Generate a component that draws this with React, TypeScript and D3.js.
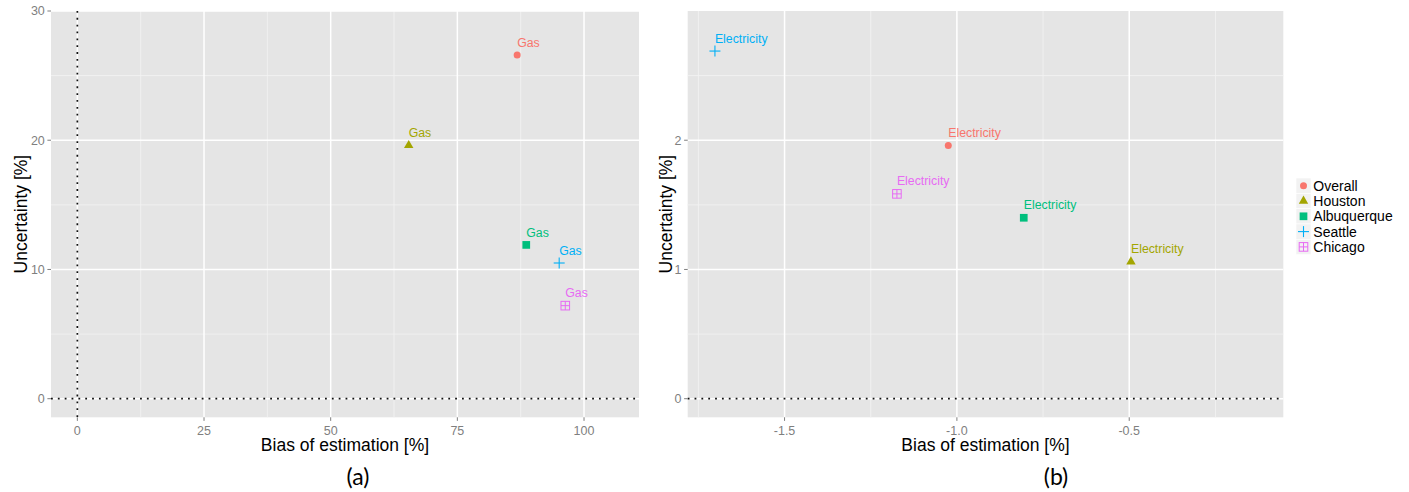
import React from "react";
import * as d3 from "d3";

const seriesNames = ["Overall", "Houston", "Albuquerque", "Seattle", "Chicago"];
const seriesColors = ["#F8766D", "#A3A500", "#00BF7D", "#00B0F6", "#E76BF3"];
const seriesShapes = ["circle", "triangle", "square", "plus", "squarePlus"];

const gasBias = [86.8, 65.4, 88.6, 95.1, 96.3];
const gasUncertainty = [26.6, 19.6, 11.9, 10.5, 7.2];
const elecBias = [-1.025, -0.495, -0.806, -1.702, -1.174];
const elecUncertainty = [1.96, 1.06, 1.4, 2.69, 1.585];

const aXTicks = [0, 25, 50, 75, 100];
const aYTicks = [0, 10, 20, 30];
const bXTicks = [-1.5, -1.0, -0.5];
const bYTicks = [0, 1, 2];

const FONT = "Liberation Sans, Arial, sans-serif";

function Marker({ shape, color, x, y }: { shape: string; color: string; x: number; y: number }) {
  if (shape === "circle") return <circle cx={x} cy={y} r={3.5} fill={color} />;
  if (shape === "triangle") {
    const s = 3.5;
    const r = 1.555 * s, xc = 1.347 * s, yc = 0.778 * s;
    return <path d={`M${x},${y - r}L${x + xc},${y + yc}L${x - xc},${y + yc}Z`} fill={color} />;
  }
  if (shape === "square") {
    const h = 3.85;
    return <rect x={x - h} y={y - h} width={2 * h} height={2 * h} fill={color} />;
  }
  if (shape === "plus") {
    const h = 5.5;
    return (
      <g stroke={color} strokeWidth={1.1}>
        <line x1={x - h} x2={x + h} y1={y} y2={y} />
        <line x1={x} x2={x} y1={y - h} y2={y + h} />
      </g>
    );
  }
  const h = 4.3;
  return (
    <g stroke={color} strokeWidth={1} fill="none">
      <rect x={x - h} y={y - h} width={2 * h} height={2 * h} />
      <line x1={x - h} x2={x + h} y1={y} y2={y} />
      <line x1={x} x2={x} y1={y - h} y2={y + h} />
    </g>
  );
}

function Panel(props: {
  left: number; right: number; top: number; bottom: number;
  xDomain: [number, number]; yDomain: [number, number];
  xTicks: number[]; yTicks: number[];
  xs: number[]; ys: number[]; label: string; fmtX: (v: number) => string;
  vline: boolean; yTitleX: number; tag: string; tagX: number;
}) {
  const { left, right, top, bottom, xDomain, yDomain, xTicks, yTicks, xs, ys, label, fmtX, vline, yTitleX, tag, tagX } = props;
  const x = d3.scaleLinear().domain(xDomain).range([left, right]);
  const y = d3.scaleLinear().domain(yDomain).range([bottom, top]);
  const xStep = xTicks[1] - xTicks[0];
  const yStep = yTicks[1] - yTicks[0];
  const xMinor: number[] = [];
  for (let v = xTicks[0] - xStep / 2; v <= xDomain[1]; v += xStep) if (v >= xDomain[0]) xMinor.push(v);
  const yMinor: number[] = [];
  for (let v = yTicks[0] - yStep / 2; v <= yDomain[1]; v += yStep) if (v >= yDomain[0]) yMinor.push(v);
  const cx = (left + right) / 2;
  const cy = (top + bottom) / 2;
  return (
    <g>
      <rect x={left} y={top} width={right - left} height={bottom - top} fill="#E5E5E5" />
      {xMinor.map((v, i) => (
        <line key={"xm" + i} x1={x(v)} x2={x(v)} y1={top} y2={bottom} stroke="#F2F2F2" strokeWidth={0.9} />
      ))}
      {yMinor.map((v, i) => (
        <line key={"ym" + i} x1={left} x2={right} y1={y(v)} y2={y(v)} stroke="#F2F2F2" strokeWidth={0.9} />
      ))}
      {xTicks.map((v, i) => (
        <line key={"xM" + i} x1={x(v)} x2={x(v)} y1={top} y2={bottom} stroke="#FFFFFF" strokeWidth={1.5} />
      ))}
      {yTicks.map((v, i) => (
        <line key={"yM" + i} x1={left} x2={right} y1={y(v)} y2={y(v)} stroke="#FFFFFF" strokeWidth={1.5} />
      ))}
      <line x1={left} x2={right} y1={y(0)} y2={y(0)} stroke="#111" strokeWidth={1.7} strokeDasharray="1.8,5.05" />
      {vline && (
        <line x1={x(0)} x2={x(0)} y1={top} y2={bottom} stroke="#111" strokeWidth={1.7} strokeDasharray="1.8,5.05" />
      )}
      {xs.map((v, i) => (
        <g key={"p" + i}>
          <Marker shape={seriesShapes[i]} color={seriesColors[i]} x={x(v)} y={y(ys[i])} />
          <text x={x(v)} y={y(ys[i]) - 8.4} fill={seriesColors[i]} fontSize={12.3} fontFamily={FONT}>
            {label}
          </text>
        </g>
      ))}
      {xTicks.map((v, i) => (
        <g key={"xt" + i}>
          <line x1={x(v)} x2={x(v)} y1={bottom} y2={bottom + 3.6} stroke="#7F7F7F" strokeWidth={1} />
          <text x={x(v)} y={434.5} textAnchor="middle" fill="#7F7F7F" fontSize={12.5} fontFamily={FONT}>
            {fmtX(v)}
          </text>
        </g>
      ))}
      {yTicks.map((v, i) => (
        <g key={"yt" + i}>
          <line x1={left - 3.6} x2={left} y1={y(v)} y2={y(v)} stroke="#7F7F7F" strokeWidth={1} />
          <text x={left - 6.2} y={y(v) + 4.4} textAnchor="end" fill="#7F7F7F" fontSize={12.5} fontFamily={FONT}>
            {String(v)}
          </text>
        </g>
      ))}
      <text x={cx} y={451} textAnchor="middle" fill="#000" fontSize={17.5} fontFamily={FONT}>
        Bias of estimation [%]
      </text>
      <text
        transform={`translate(${yTitleX},${cy}) rotate(-90)`}
        textAnchor="middle"
        fill="#000"
        fontSize={17.5}
        fontFamily={FONT}
      >
        Uncertainty [%]
      </text>
      <text x={tagX} y={485} textAnchor="middle" fill="#000" fontSize={23} fontFamily="Lato, 'Open Sans', sans-serif">
        {tag}
      </text>
    </g>
  );
}

export default function App() {
  const legendTop = 185.7;
  const legendStep = 15.3;
  return (
    <svg
      width={1409}
      height={492}
      style={{ position: "absolute", left: 0, top: 0, background: "#fff" }}
      xmlns="http://www.w3.org/2000/svg"
    >
      <Panel
        left={51} right={639} top={11} bottom={417.3}
        xDomain={[-5.2, 110.85]} yDomain={[-1.44, 30]}
        xTicks={aXTicks} yTicks={aYTicks}
        xs={gasBias} ys={gasUncertainty} label="Gas"
        fmtX={(v) => String(v)} vline={true} yTitleX={26.5}
        tag="(a)" tagX={358}
      />
      <Panel
        left={687.7} right={1283.3} top={11} bottom={417.3}
        xDomain={[-1.781, -0.053]} yDomain={[-0.144, 3.0]}
        xTicks={bXTicks} yTicks={bYTicks}
        xs={elecBias} ys={elecUncertainty} label="Electricity"
        fmtX={(v) => d3.format(".1f")(v).replace("−", "-")} vline={false} yTitleX={671.5}
        tag="(b)" tagX={1056}
      />
      <g>
        {seriesNames.map((name, i) => {
          const cy = legendTop + i * legendStep;
          return (
            <g key={name}>
              <rect x={1296} y={cy - legendStep / 2} width={15} height={legendStep} fill="#F2F2F2" stroke="#FFFFFF" strokeWidth={0.6} />
              <Marker shape={seriesShapes[i]} color={seriesColors[i]} x={1303.5} y={cy} />
              <text x={1313.3} y={cy + 5} fill="#000" fontSize={14} fontFamily={FONT}>
                {name}
              </text>
            </g>
          );
        })}
      </g>
    </svg>
  );
}
